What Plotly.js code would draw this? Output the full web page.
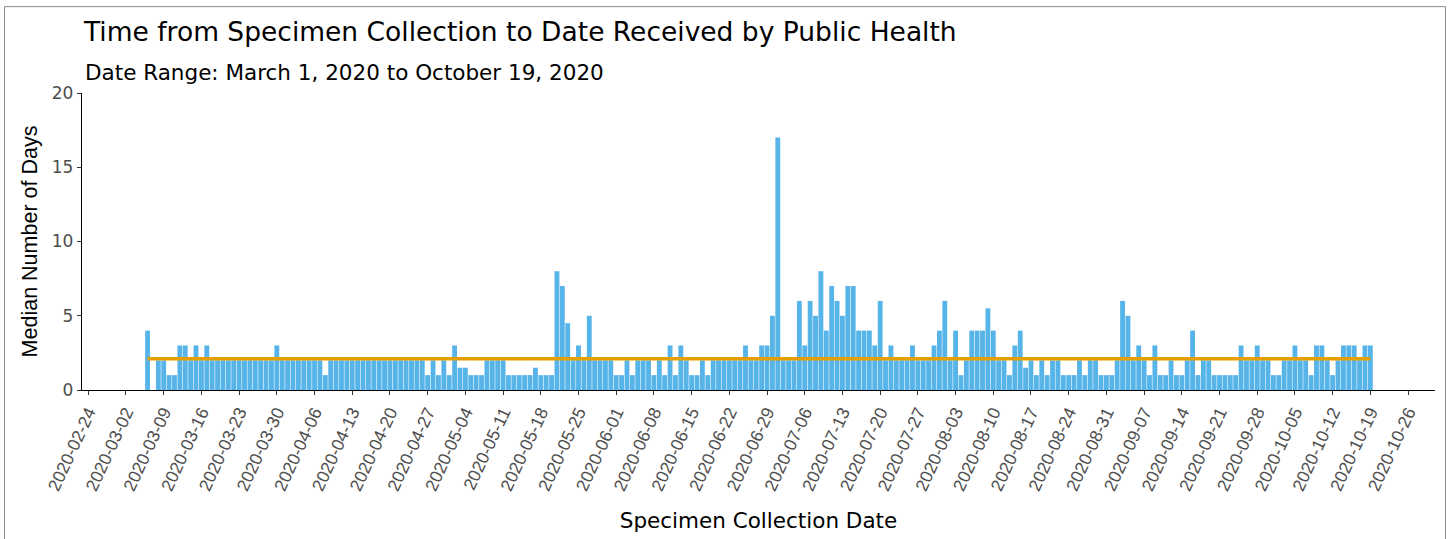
<!DOCTYPE html>
<html>
<head>
<meta charset="utf-8">
<script src="https://cdn.plot.ly/plotly-3.0.1.min.js"></script>
<style>
  html, body { margin: 0; padding: 0; background: #ffffff; }
  #chart { width: 1450px; height: 539px; }
</style>
</head>
<body>
<div id="chart"></div>
<script>
// ---- Data ----
// First collection date shown, then one value per consecutive day (null = no bar)
const firstDate = '2020-03-06';
const medianDays = [
  4, null, 2, 2, 1, 1, 3, 3, 2, 3, 2, 3,
  2, 2, 2, 2, 2, 2, 2, 2, 2, 2, 2, 2,
  3,
  2, 2, 2, 2, 2, 2, 2, 2,
  1,
  2, 2, 2, 2, 2, 2, 2, 2, 2, 2, 2, 2, 2, 2, 2, 2, 2, 2,
  1, 2, 1, 2, 1, 3, 1.5, 1.5, 1, 1, 1,
  2, 2, 2, 2, 1, 1, 1, 1, 1, 1.5, 1, 1, 1,
  8, 7, 4.5, 2, 3, 2, 5, 2, 2, 2, 2, 1, 1, 2, 1,
  2, 2, 2, 1, 2, 1, 3, 1, 3, 2, 1, 1, 2, 1,
  2, 2, 2, 2, 2, 2, 3, 2, 2, 3, 3, 5, 17,
  2, 2, 2, 6, 3, 6, 5, 8, 4, 7, 6, 5, 7, 7,
  4, 4, 4, 3, 6, 2, 3, 2, 2, 2, 3, 2, 2, 2, 3, 4, 6,
  2, 4, 1, 2, 4, 4, 4, 5.5, 4, 2, 2, 1, 3, 4, 1.5,
  2, 1, 2, 1, 2, 2, 1, 1, 1, 2, 1, 2, 2, 1, 1, 1, 2,
  6, 5, 2, 3, 2, 1, 3, 1, 1, 2, 1, 1, 2, 4, 1,
  2, 2, 1, 1, 1, 1, 1, 3, 2, 2, 3, 2, 2, 1, 1, 2, 2,
  3, 2, 2, 1, 3, 3, 2, 1, 2, 3, 3, 3, 2, 3, 3
];
const overallMedian = 2.1;   // horizontal reference line level
const lineStart = '2020-03-06';
const lineEnd = '2020-10-19';

const titleText = 'Time from Specimen Collection to Date Received by Public Health';
const subtitleText = 'Date Range: March 1, 2020 to October 19, 2020';
const xTitle = 'Specimen Collection Date';
const yTitle = 'Median Number of Days';
const firstTick = '2020-02-24';
const xRange = ['2020-02-22 20:00', '2020-10-31 00:00'];
const yTicks = [0, 5, 10, 15, 20];

// ---- Build consecutive daily categories ----
function addDays(iso, n) {
  const d = new Date(iso + 'T00:00:00Z');
  d.setUTCDate(d.getUTCDate() + n);
  return d.toISOString().slice(0, 10);
}
const dates = medianDays.map((_, i) => addDays(firstDate, i));

const FONT = 'Liberation Sans, Arial, Helvetica, sans-serif';
const WIDE = 'DejaVu Sans, Verdana, sans-serif';

const bars = {
  type: 'bar',
  x: dates,
  y: medianDays,
  marker: { color: '#56B4E9', line: { width: 0 } },
  hoverinfo: 'x+y',
  showlegend: false
};

const medLine = {
  type: 'scatter',
  mode: 'lines',
  x: [lineStart, lineEnd],
  y: [overallMedian, overallMedian],
  line: { color: '#E69F00', width: 3.5 },
  hoverinfo: 'skip',
  showlegend: false
};

// plot area: x 82..1435, y 93..390.5
const L = 82, R = 1435, T = 93, B = 390.5;
const px2x = p => (p - L) / (R - L);
const px2y = p => (B - p) / (B - T);

const layout = {
  width: 1450,
  height: 539,
  margin: { l: L, r: 1450 - R, t: T, b: 539 - B },
  paper_bgcolor: '#ffffff',
  plot_bgcolor: '#ffffff',
  bargap: 0.1,
  font: { family: FONT, color: '#000000' },
  title: {
    text: titleText,
    font: { family: WIDE, size: 26.5, color: '#000000' },
    x: 84 / 1450, xanchor: 'left', xref: 'container',
    y: 1 - 32 / 539, yanchor: 'middle', yref: 'container'
  },
  annotations: [{
    text: subtitleText,
    xref: 'paper', yref: 'paper',
    x: px2x(83), y: px2y(72),
    xanchor: 'left', yanchor: 'middle',
    showarrow: false,
    font: { family: WIDE, size: 21.5, color: '#000000' }
  }],
  shapes: [{
    type: 'rect', xref: 'paper', yref: 'paper',
    x0: px2x(4.5), x1: px2x(1445.5),
    y0: px2y(560), y1: px2y(6.5),
    line: { color: '#8c8c8c', width: 1 },
    fillcolor: 'rgba(0,0,0,0)',
    layer: 'below'
  }],
  xaxis: {
    type: 'date',
    range: xRange,
    tickmode: 'linear',
    tick0: firstTick,
    dtick: 7 * 86400000,
    tickformat: '%Y-%m-%d',
    tickangle: -65,
    ticks: 'outside',
    ticklen: 4,
    tickwidth: 1,
    tickcolor: '#333333',
    tickfont: { family: FONT, size: 17.5, color: '#4d4d4d' },
    showline: true,
    linecolor: '#000000',
    linewidth: 1.3,
    showgrid: false,
    zeroline: false,
    automargin: false,
    title: { text: xTitle, font: { family: WIDE, size: 21.5, color: '#000000' }, standoff: 20 }
  },
  yaxis: {
    range: [0, 20],
    tickmode: 'array',
    tickvals: yTicks,
    ticktext: yTicks.map(String),
    ticks: 'outside',
    ticklen: 4,
    tickwidth: 1,
    tickcolor: '#333333',
    tickfont: { family: WIDE, size: 17, color: '#4d4d4d' },
    showline: true,
    linecolor: '#000000',
    linewidth: 1.3,
    showgrid: false,
    zeroline: false,
    automargin: false,
    title: { text: yTitle, font: { family: FONT, size: 21.5, color: '#000000' }, standoff: 8 }
  }
};

Plotly.newPlot('chart', [bars, medLine], layout, { displayModeBar: false, staticPlot: true });
</script>
</body>
</html>
